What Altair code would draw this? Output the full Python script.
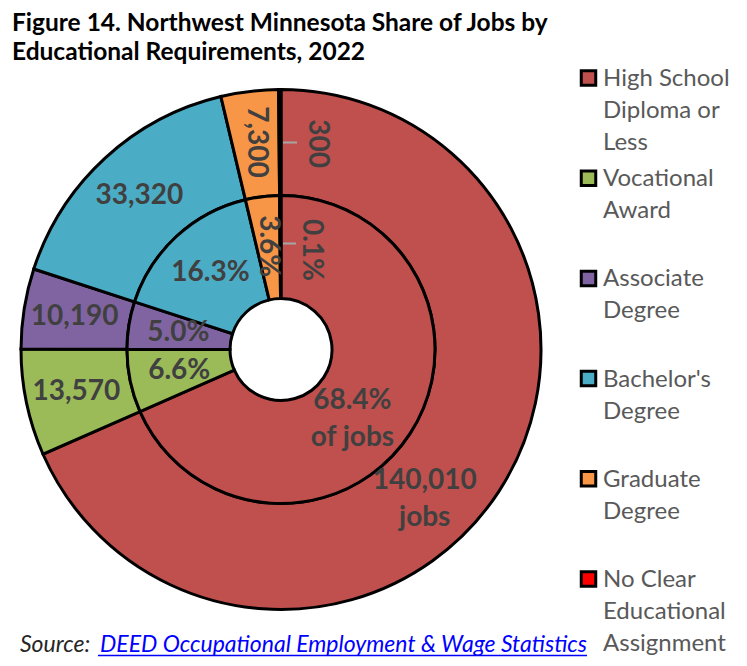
import altair as alt
import pandas as pd

# ---------------- data ----------------
categories = [
    "High School Diploma or Less",
    "Vocational Award",
    "Associate Degree",
    "Bachelor's Degree",
    "Graduate Degree",
    "No Clear Educational Assignment",
]
legend_labels = [
    "High School\nDiploma or\nLess",
    "Vocational\nAward",
    "Associate\nDegree",
    "Bachelor's\nDegree",
    "Graduate\nDegree",
    "No Clear\nEducational\nAssignment",
]
jobs = [140010, 13570, 10190, 33320, 7300, 300]
shares = [68.4, 6.6, 5.0, 16.3, 3.6, 0.1]
outer_labels = ["140,010\njobs", "13,570", "10,190", "33,320", "7,300", "300"]
inner_labels = ["68.4%\nof jobs", "6.6%", "5.0%", "16.3%", "3.6%", "0.1%"]
colors = ["#C0504D", "#9BBB59", "#8064A2", "#4BACC6", "#F79646", "#FF0000"]

title_text = "Figure 14. Northwest Minnesota Share of Jobs by\nEducational Requirements, 2022"
source_prefix = "Source:"
source_link = "DEED Occupational Employment & Wage Statistics"

df = pd.DataFrame({
    "cat": categories,
    "leg": legend_labels,
    "jobs": jobs,
    "share": shares,
    "outer": outer_labels,
    "inner": inner_labels,
    "idx": list(range(len(categories))),
})

# ---------------- layout constants ----------------
CX, CY = 273, 341.5
R_HOLE, R_MID, R_OUT = 51, 154, 260
FONT = "Lato"
LABEL_COLOR = "#404040"

color_scale = alt.Scale(domain=categories, range=colors)

base = alt.Chart(df)

ring_enc = dict(
    theta=alt.Theta("jobs:Q", stack=True),
    color=alt.Color("cat:N", scale=color_scale, legend=None),
    order=alt.Order("idx:Q"),
    x=alt.value(CX),
    y=alt.value(CY),
)

outer_ring = base.mark_arc(innerRadius=R_MID, outerRadius=R_OUT, stroke="black",
                           strokeWidth=3).encode(**ring_enc)
inner_ring = base.mark_arc(innerRadius=R_HOLE, outerRadius=R_MID, stroke="black",
                           strokeWidth=3).encode(**ring_enc)


def label_layer(field, radius, big_radius, big_offset, tiny_offset, font_size):
    return (
        base.transform_window(
            cum="sum(jobs)", sort=[alt.SortField("idx")], frame=[None, 0]
        )
        .transform_joinaggregate(total="sum(jobs)")
        .transform_calculate(
            ang=f"2*PI*(datum.cum - datum.jobs/2)/datum.total"
                f" + (datum.idx == 0 ? {big_offset} : datum.idx == 5 ? {tiny_offset} : 0)",
            rad=f"datum.idx == 0 ? {big_radius} : {radius}",
            rot="datum.share < 4 ? 90 : 0",
        )
        .mark_text(font=FONT, fontWeight="bold", fontSize=font_size, color=LABEL_COLOR,
                   lineBreak="\n", lineHeight=37, baseline="middle", align="center")
        .encode(
            theta=alt.Theta("ang:Q", scale=None, stack=None),
            radius=alt.Radius("rad:Q", scale=None),
            text=alt.Text(f"{field}:N"),
            angle=alt.Angle("rot:Q", scale=None),
            x=alt.value(CX),
            y=alt.value(CY),
        )
    )


outer_text = label_layer("outer", 209, 195, 0.164, 0.18, 28)
inner_text = label_layer("inner", 104, 88, 0.047, 0.30, 28)


def leader(radius, length):
    return (
        base.transform_filter("datum.idx == 5")
        .transform_calculate(
            lx1=f"{CX} + 2",
            lx2=f"{CX} + 2 + {length}",
            ly=f"{CY} - {radius}",
        )
        .mark_rule(color="#A6A6A6", strokeWidth=2)
        .encode(
            x=alt.X("lx1:Q", scale=None, axis=None),
            x2="lx2:Q",
            y=alt.Y("ly:Q", scale=None, axis=None),
        )
    )


leaders = leader(207, 14) + leader(106, 13)

# ---------------- legend ----------------
leg_y = alt.Y("idx:Q", scale=alt.Scale(domain=[0, 5], range=[70, 571]), axis=None)
legend_sq = base.mark_square(size=210, stroke="black", strokeWidth=3, opacity=1).encode(
    x=alt.value(580.5),
    y=leg_y,
    color=alt.Color("cat:N", scale=color_scale, legend=None),
)
legend_txt = base.mark_text(
    font=FONT, fontSize=24, color="#595959", align="left", baseline="alphabetic",
    dy=8, lineBreak="\n", lineHeight=32,
).encode(x=alt.value(595), y=leg_y, text="leg:N")

# ---------------- title & source ----------------
title = alt.Chart(pd.DataFrame({"t": [title_text]})).mark_text(
    font=FONT, fontWeight="bold", fontSize=24.5, color="black", align="left",
    baseline="alphabetic", lineBreak="\n", lineHeight=29,
).encode(x=alt.value(4), y=alt.value(22.5), text="t:N")

src1 = alt.Chart(pd.DataFrame({"t": [source_prefix]})).mark_text(
    font=FONT, fontStyle="italic", fontSize=23, color="#262626", align="left",
    baseline="alphabetic",
).encode(x=alt.value(12), y=alt.value(644), text="t:N")
src2 = alt.Chart(pd.DataFrame({"t": [source_link]})).mark_text(
    font=FONT, fontStyle="italic", fontSize=23, color="#0000FF", align="right",
    baseline="alphabetic",
).encode(x=alt.value(579), y=alt.value(644), text="t:N")
underline = alt.Chart(pd.DataFrame({"t": [source_link]})).mark_rule(
    color="#0000FF", strokeWidth=1.5
).encode(x=alt.value(90), x2=alt.value(579), y=alt.value(647.5))

chart = (
    alt.layer(outer_ring, inner_ring, outer_text, inner_text, leaders,
              legend_sq, legend_txt, title, src1, src2, underline)
    .resolve_scale(x="independent", y="independent", theta="independent",
                   radius="independent")
    .properties(width=731, height=650, autosize=alt.AutoSizeParams(type="none"),
                padding=0, background="white")
    .configure_view(stroke=None)
)

chart.save("out.html", embed_options={"renderer": "svg", "actions": False})
